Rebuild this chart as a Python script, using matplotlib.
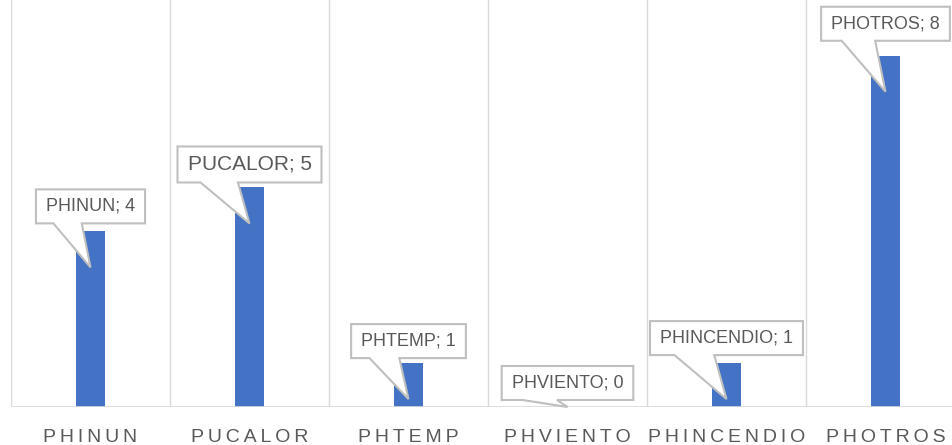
import numpy as np
import matplotlib
matplotlib.use("Agg")
import matplotlib.pyplot as plt
from matplotlib.patches import Polygon
from matplotlib.transforms import IdentityTransform

categories = ["PHINUN", "PUCALOR", "PHTEMP", "PHVIENTO", "PHINCENDIO", "PHOTROS"]
values = [4, 5, 1, 0, 1, 8]

# callout style per label (font size, gap above bar in px)
label_sizes = [13, 15, 13, 13, 13, 13]
label_gaps = [8, 5, 5, 7, 8, 15]

plt.rcParams["font.family"] = ["Liberation Sans", "DejaVu Sans"]

bar_color = "#4472C4"
grid_color = "#D9D9D9"
text_color = "#595959"
edge_color = "#BFBFBF"

fig = plt.figure(figsize=(9.52, 4.45), dpi=100)
ax = fig.add_axes([11 / 952, 38 / 445, 954 / 952, 407 / 445])

x = np.arange(len(categories))
ax.bar(x, values, width=0.18, color=bar_color, zorder=2)

ax.set_xlim(-0.5, len(categories) - 0.5)
ax.set_ylim(0, 9.27)

# category boundary gridlines
for b in np.arange(-0.5, len(categories), 1.0):
    ax.axvline(b, color=grid_color, lw=1.0, zorder=1)
ax.axhline(0, color=grid_color, lw=1.2, zorder=3)

for s in ax.spines.values():
    s.set_visible(False)
ax.set_yticks([])
ax.set_xticks(x)
ax.set_xticklabels(["\u2009".join(c) for c in categories], fontsize=14, color=text_color)
ax.tick_params(axis="x", length=0, pad=16)

fig.canvas.draw()
renderer = fig.canvas.get_renderer()
ident = IdentityTransform()
y_base = ax.transData.transform((0, 0))[1]

for i, (cat, v) in enumerate(zip(categories, values)):
    xc, ytop = ax.transData.transform((i, v))
    t = ax.text(0, 0, f"{cat}; {v}", transform=ident, fontsize=label_sizes[i],
                color=text_color, ha="center", va="center", zorder=6, clip_on=False)
    bb = t.get_window_extent(renderer)
    w = bb.width + 20
    h = bb.height + 17
    y0 = ytop + label_gaps[i]
    x0 = xc - w / 2
    t.set_position((xc, y0 + h / 2))
    tip = (xc, max(ytop - 36, y_base))
    verts = [(x0, y0), (x0 + 0.16 * w, y0), tip, (x0 + 0.42 * w, y0),
             (x0 + w, y0), (x0 + w, y0 + h), (x0, y0 + h)]
    poly = Polygon(verts, closed=True, transform=ident, facecolor="white",
                   edgecolor=edge_color, lw=1.5, zorder=5, clip_on=False)
    ax.add_artist(poly)

fig.savefig("out.png", dpi=100)
